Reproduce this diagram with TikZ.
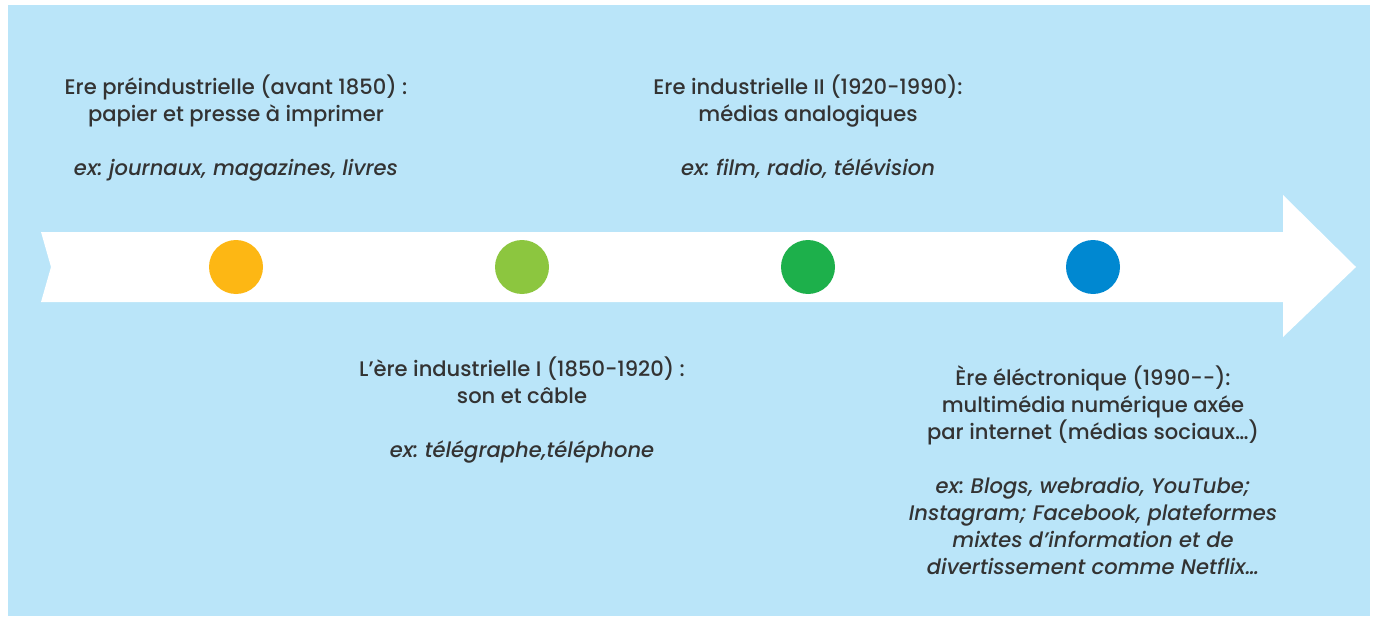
\documentclass[tikz,border=0pt]{standalone}
\usepackage{fontspec}
\setmainfont{Poppins}[UprightFont=* Medium, ItalicFont=* Medium Italic]
\definecolor{skyback}{HTML}{BAE5F9}
\definecolor{dotorange}{HTML}{FDB714}
\definecolor{dotlime}{HTML}{8CC63F}
\definecolor{dotgreen}{HTML}{1DB04B}
\definecolor{dotblue}{HTML}{0088D1}
\definecolor{txtgray}{HTML}{333333}
\frenchspacing
\tikzset{
  eradot/.style={circle, inner sep=0pt, minimum size=54\pxu},
  eratext/.style={align=center, anchor=north, inner sep=0pt, text=txtgray,
    font=\fontsize{12}{15.4}\selectfont},
}
\newlength{\pxu}
\setlength{\pxu}{0.02cm}
\begin{document}
\begin{tikzpicture}[x=0.02cm, y=-0.02cm]
        \useasboundingbox (0, 0) rectangle (1375, 618);
        \fill [skyback] (8, 5) rectangle (1370, 616);

        % timeline arrow
        \fill [white] (41, 232) -- (1283, 232) -- (1283, 195) -- (1356, 267)
          -- (1283, 337) -- (1283, 302) -- (41, 302) -- (51, 267) -- cycle;

        \node [eradot, fill=dotorange] (D1) at (236, 267) {};
        \node [eradot, fill=dotlime] (D2) at (522, 267) {};
        \node [eradot, fill=dotgreen] (D3) at (808, 267) {};
        \node [eradot, fill=dotblue] (D4) at (1093, 267) {};

        \node [eratext] (E1) at (236, 74)
        {Ere préindustrielle (avant 1850) :\\
         papier et presse à imprimer\\[15.4pt]
         \textit{ex: journaux, magazines, livres}};

        \node [eratext] (E3) at (808, 74)
        {Ere industrielle II (1920-1990):\\
         médias analogiques\\[15.4pt]
         \textit{ex: film, radio, télévision}};

        \node [eratext] (E2) at (522, 356)
        {L’ère industrielle I (1850-1920) :\\
         son et câble\\[15.4pt]
         \textit{ex: télégraphe,téléphone}};

        \node [eratext] (E4) at (1093, 365)
        {Ère éléctronique (1990-{}-):\\
         multimédia numérique axée\\
         par internet (médias sociaux…)\\[15.4pt]
         \textit{ex: Blogs, webradio, YouTube;}\\
         \textit{Instagram; Facebook, plateformes}\\
         \textit{mixtes d’information et de}\\
         \textit{divertissement comme Netflix…}};
      \end{tikzpicture}
\end{document}
